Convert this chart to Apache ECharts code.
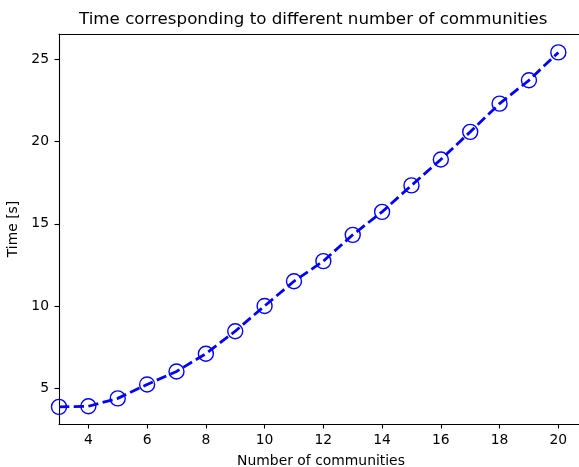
<!DOCTYPE html>
<html>
<head>
<meta charset="utf-8">
<script src="https://cdn.jsdelivr.net/npm/echarts@6/dist/echarts.min.js"></script>
<style>html,body{margin:0;padding:0;background:#fff}#c{width:579px;height:467px}</style>
</head>
<body>
<div id="c"></div>
<script>
const communities = [3,4,5,6,7,8,9,10,11,12,13,14,15,16,17,18,19,20];
const times = [3.85,3.89,4.37,5.22,6.01,7.09,8.46,10.0,11.5,12.73,14.33,15.73,17.34,18.92,20.6,22.32,23.74,25.44];
const xTicks = [4,6,8,10,12,14,16,18,20];
const yTicks = [5,10,15,20,25];
const titleText = 'Time corresponding to different number of communities';
const xName = 'Number of communities';
const yName = 'Time [s]';

const font = 'DejaVu Sans';
const chart = echarts.init(document.getElementById('c'), null, {renderer:'canvas'});
const axisLineStyle = {color:'#000', width:1.1};
chart.setOption({
  animation:false,
  backgroundColor:'#fff',
  title:{text:titleText, left:74, top:6, textStyle:{fontFamily:font, fontSize:16.7, fontWeight:'normal', color:'#000'}},
  grid:{left:59, top:34, right:-4, bottom:43, outerBoundsMode:'none', containLabel:false},
  xAxis:[{
    type:'value', min:3, max:20.84,
    name:xName, nameLocation:'middle', nameGap:30,
    nameTextStyle:{fontFamily:font, fontSize:13.9, color:'#000'},
    axisLine:{show:true, onZero:false, lineStyle:axisLineStyle},
    axisTick:{show:true, length:4.5, customValues:xTicks, lineStyle:{color:'#000', width:1.1}},
    axisLabel:{customValues:xTicks, fontFamily:font, fontSize:13.9, color:'#000', margin:9},
    splitLine:{show:false}
  },{
    type:'value', position:'top', min:3, max:20.84,
    axisLine:{show:true, onZero:false, lineStyle:axisLineStyle},
    axisTick:{show:false}, axisLabel:{show:false}, splitLine:{show:false}
  }],
  yAxis:{
    type:'value', min:2.81, max:26.56,
    name:yName, nameLocation:'middle', nameGap:33, nameRotate:90,
    nameTextStyle:{fontFamily:font, fontSize:13.9, color:'#000'},
    axisLine:{show:true, onZero:false, lineStyle:axisLineStyle},
    axisTick:{show:true, length:4.5, customValues:yTicks, lineStyle:{color:'#000', width:1.1}},
    axisLabel:{customValues:yTicks, fontFamily:font, fontSize:13.9, color:'#000', margin:10},
    splitLine:{show:false}
  },
  series:[{
    type:'line',
    data:communities.map((c,i)=>[c, times[i]]),
    symbol:'circle', symbolSize:15,
    showAllSymbol:true,
    clip:false,
    lineStyle:{color:'#0000ff', width:2.8, type:[10.3,4.4]},
    itemStyle:{color:'rgba(0,0,0,0)', borderColor:'#0000ff', borderWidth:1.4},
    emphasis:{disabled:true}
  }]
});
</script>
</body>
</html>
